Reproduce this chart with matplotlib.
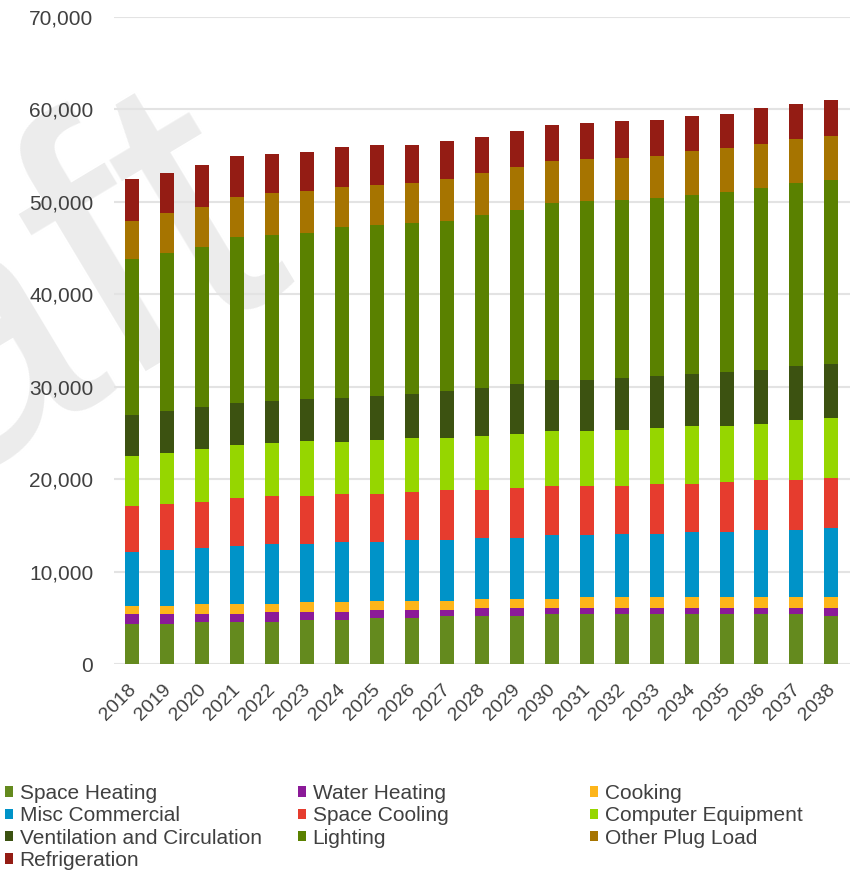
import numpy as np
import matplotlib
matplotlib.use("Agg")
import matplotlib.pyplot as plt
from matplotlib.patches import Patch
from matplotlib.transforms import ScaledTranslation

plt.rcParams['font.family'] = ['Liberation Sans', 'DejaVu Sans']

years = [str(y) for y in range(2018, 2039)]

space_heating = [4300, 4300, 4520, 4520, 4520, 4740, 4740, 4950, 4950, 5160, 5160,
                 5160, 5380, 5380, 5380, 5380, 5380, 5380, 5380, 5380, 5160]
water_heating = [1100, 1100, 880, 880, 1070, 850, 850, 850, 850, 640, 860,
                 860, 640, 640, 640, 640, 640, 640, 640, 640, 860]
cooking = [850, 850, 1050, 1050, 860, 1070, 1070, 1070, 1070, 1070, 1060,
           1060, 1060, 1280, 1280, 1280, 1280, 1280, 1280, 1280, 1280]
misc_commercial = [5900, 6130, 6150, 6370, 6580, 6370, 6580, 6350, 6580, 6580, 6600,
                   6600, 6830, 6610, 6750, 6750, 7000, 7000, 7250, 7250, 7400]
space_cooling = [5000, 4980, 4980, 5190, 5200, 5200, 5200, 5210, 5170, 5400, 5170,
                 5400, 5390, 5390, 5250, 5450, 5200, 5400, 5350, 5350, 5450]
computer_equipment = [5400, 5420, 5630, 5640, 5630, 5850, 5630, 5850, 5850, 5620, 5850,
                      5850, 5860, 5860, 6050, 6050, 6250, 6050, 6100, 6500, 6500]
ventilation = [4350, 4550, 4550, 4540, 4550, 4550, 4750, 4750, 4790, 5020, 5210,
               5390, 5620, 5620, 5600, 5600, 5650, 5850, 5800, 5850, 5800]
lighting = [16900, 17110, 17330, 17980, 17980, 17970, 18420, 18430, 18430, 18390, 18620,
            18850, 19080, 19270, 19300, 19300, 19300, 19500, 19750, 19750, 19950]
other_plug_load = [4100, 4330, 4330, 4330, 4550, 4550, 4330, 4330, 4330, 4560, 4560,
                   4560, 4520, 4560, 4550, 4550, 4750, 4750, 4750, 4750, 4750]
refrigeration = [4550, 4330, 4550, 4490, 4270, 4280, 4330, 4340, 4110, 4100, 3910,
                 3920, 3910, 3910, 3900, 3900, 3850, 3700, 3900, 3850, 3900]

series = [
    ("Space Heating", space_heating, "#648a1e"),
    ("Water Heating", water_heating, "#8b1a98"),
    ("Cooking", cooking, "#fdb51a"),
    ("Misc Commercial", misc_commercial, "#0093c8"),
    ("Space Cooling", space_cooling, "#e63c2e"),
    ("Computer Equipment", computer_equipment, "#96d600"),
    ("Ventilation and Circulation", ventilation, "#3c5211"),
    ("Lighting", lighting, "#5a8100"),
    ("Other Plug Load", other_plug_load, "#a67400"),
    ("Refrigeration", refrigeration, "#941c14"),
]

fig = plt.figure(figsize=(8.52, 8.72), dpi=100)

# faint "Draft" stamp behind the chart
fig.text(294 / 852, 1 - 265 / 872, "Draft", fontsize=272, color="#ececec",
         rotation=31, ha="right", va="baseline", rotation_mode="anchor", zorder=-5)

ax = fig.add_axes([0.134, 0.2385, 0.864, 0.742])
ax.patch.set_alpha(0)

x = np.arange(len(years))
bottom = np.zeros(len(years))
for name, vals, col in series:
    vals = np.array(vals, dtype=float)
    ax.bar(x, vals, width=0.4, bottom=bottom, color=col, label=name, zorder=3)
    bottom += vals

ax.set_ylim(0, 70000)
ax.set_xlim(-0.515, 20.54)
ax.set_yticks(np.arange(0, 70001, 10000))
ax.set_yticklabels([f"{v:,}" for v in range(0, 70001, 10000)])
ax.yaxis.grid(True, color="#e3e3e3", linewidth=1.5, zorder=0)
ax.set_axisbelow(True)
for s in ax.spines.values():
    s.set_visible(False)
ax.tick_params(axis="y", length=0, pad=15, labelsize=15, labelcolor="#404040")
ax.set_xticks(x)
ax.set_xticklabels(years, rotation=45, ha="right", rotation_mode="anchor")
ax.tick_params(axis="x", length=0, pad=12, labelsize=14, labelcolor="#404040")
shift = ScaledTranslation(-0.05, 0, fig.dpi_scale_trans)
for lab in ax.get_xticklabels():
    lab.set_transform(lab.get_transform() + shift)

# three legend columns
cols = [[0, 3, 6, 9], [1, 4, 7], [2, 5, 8]]
xs = [5 / 852, 298 / 852, 590 / 852]
for xi, idx in zip(xs, cols):
    handles = [Patch(facecolor=series[i][2], edgecolor="none") for i in idx]
    labels = [series[i][0] for i in idx]
    fig.legend(handles, labels, loc="upper left", bbox_to_anchor=(xi, 1 - 784 / 872),
               frameon=False, fontsize=15, handlelength=0.4, handleheight=0.4,
               handletextpad=0.3, labelspacing=0.16, borderaxespad=0,
               borderpad=0, labelcolor="#404040")

fig.savefig("out.png", dpi=100)
